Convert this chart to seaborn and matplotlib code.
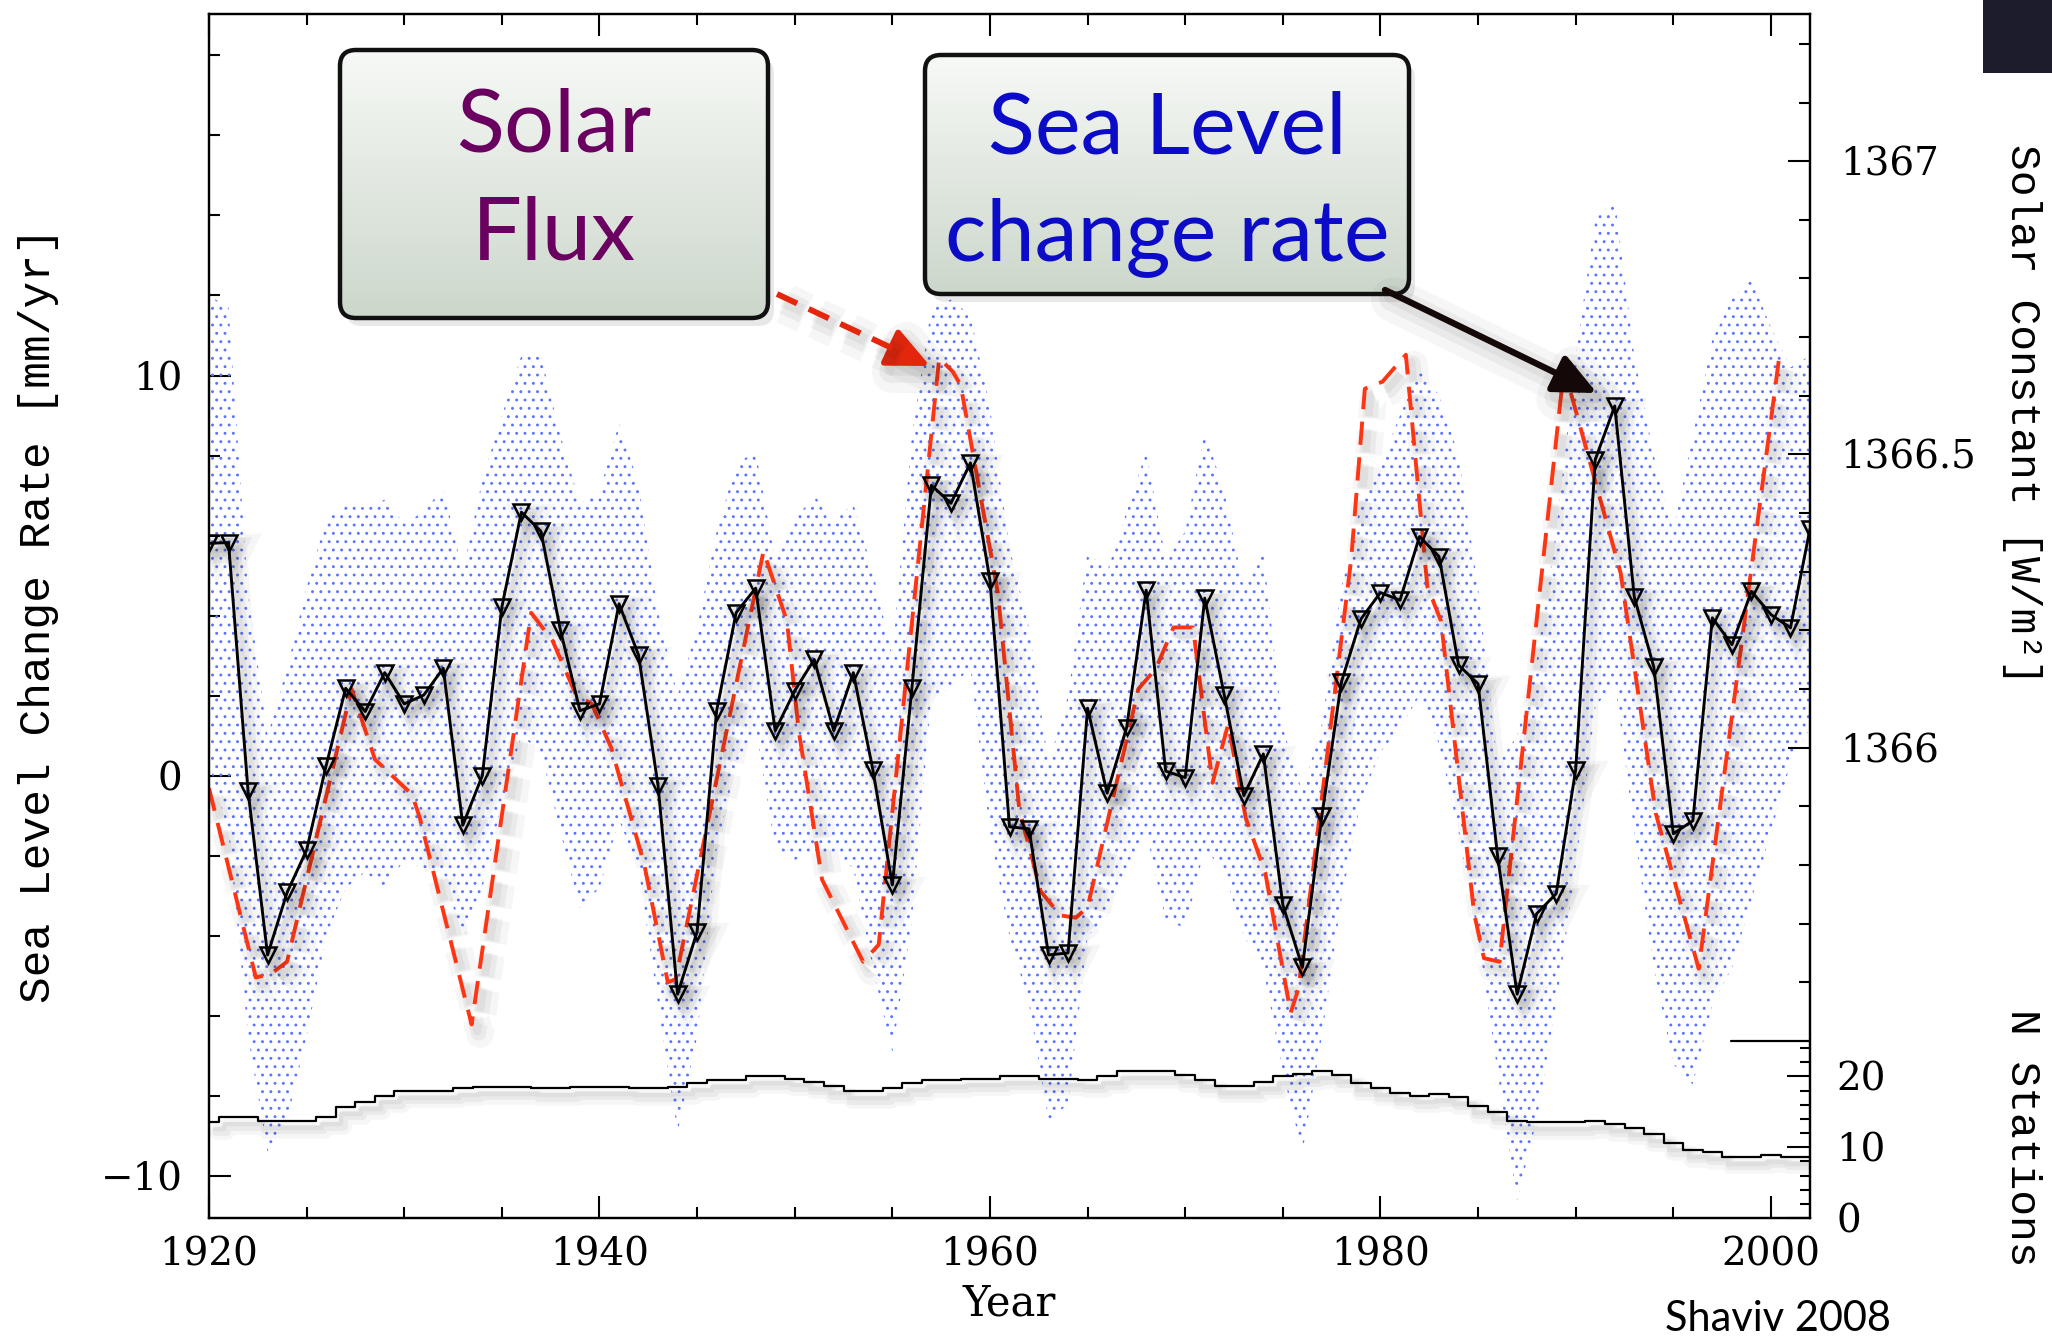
import numpy as np
import matplotlib
matplotlib.use("Agg")
import matplotlib.pyplot as plt
import seaborn as sns
from matplotlib.patches import FancyBboxPatch, FancyArrowPatch, Rectangle
from matplotlib.lines import Line2D
from matplotlib.ticker import FixedLocator, MultipleLocator, FuncFormatter
from matplotlib.colors import LinearSegmentedColormap
import matplotlib.patheffects as pe

# ---------------- data ----------------
years = list(range(1920, 2003))

sea_rate = [5.81, 5.83, -0.37, -4.47, -2.91, -1.85, 0.26, 2.19, 1.61, 2.58,
            1.80, 2.02, 2.69, -1.23, 0.01, 4.22, 6.59, 6.11, 3.64, 1.63,
            1.80, 4.30, 3.02, -0.24, -5.45, -3.89, 1.63, 4.08, 4.69, 1.13,
            2.13, 2.91, 1.13, 2.58, 0.16, -2.72, 2.19, 7.26, 6.81, 7.82,
            4.88, -1.27, -1.32, -4.47, -4.42, 1.69, -0.43, 1.21, 4.64, 0.12,
            -0.04, 4.44, 2.02, -0.49, 0.55, -3.22, -4.78, -0.99, 2.35, 3.92,
            4.58, 4.39, 5.98, 5.48, 2.77, 2.30, -2.00, -5.45, -3.44, -2.94,
            0.16, 7.90, 9.24, 4.47, 2.72, -1.44, -1.12, 3.95, 3.28, 4.61,
            4.03, 3.70, 6.17]

band_upper = [12.0, 11.7, 4.6, 1.0, 2.7, 4.7, 6.4, 6.8, 6.7, 6.9,
              6.3, 6.6, 7.2, 5.1, 7.4, 9.0, 10.5, 10.5, 8.5, 6.8,
              7.1, 8.8, 7.3, 4.1, 2.0, 3.7, 6.1, 7.8, 8.1, 5.4,
              6.4, 7.0, 6.4, 6.8, 5.1, 3.0, 8.5, 11.7, 11.9, 11.5,
              9.2, 5.7, 3.7, 0.3, 2.0, 5.6, 5.1, 6.6, 8.1, 5.4,
              6.1, 8.6, 7.1, 4.7, 5.6, 1.2, -0.4, 1.3, 4.7, 6.8,
              7.8, 9.0, 10.2, 9.5, 8.0, 4.7, 0.3, 1.0, 2.9, 6.1,
              10.5, 13.9, 14.4, 10.5, 8.0, 6.1, 8.5, 10.9, 11.9, 12.4,
              11.2, 10.2, 10.5]

band_lower = [0.3, -1.4, -6.5, -9.4, -8.6, -6.5, -4.0, -2.8, -2.4, -2.8,
              -2.1, -2.3, -2.4, -4.1, -2.8, -0.7, 1.0, 0.6, -1.4, -3.3,
              -2.8, -1.1, -2.3, -5.7, -8.9, -6.5, -1.8, 0.3, 1.2, -1.8,
              -2.1, -1.9, -1.9, -2.3, -4.8, -6.9, -3.6, 2.0, 2.2, 2.7,
              -1.4, -4.0, -5.7, -8.6, -8.2, -4.0, -3.5, -2.4, -1.4, -3.6,
              -3.8, -1.8, -2.4, -4.0, -4.8, -7.4, -9.4, -6.5, -3.1, -0.6,
              0.6, 1.2, 2.0, 0.8, -1.4, -4.0, -7.4, -10.6, -8.6, -5.7,
              -2.3, 1.7, 2.4, -1.4, -4.8, -7.2, -7.7, -5.7, -4.8, -3.1,
              -1.4, 0.3, 1.2]

n_stations = [13.5, 14.2, 14.2, 13.7, 13.7, 13.7, 14.2, 15.7, 16.4, 17.3,
              18.0, 18.0, 18.0, 18.3, 18.5, 18.5, 18.5, 18.3, 18.3, 18.5,
              18.5, 18.5, 18.3, 18.3, 18.5, 19.0, 19.5, 19.5, 20.0, 20.0,
              19.7, 19.25, 18.6, 17.9, 17.9, 18.3, 19.0, 19.5, 19.5, 19.7,
              19.7, 20.0, 20.0, 19.7, 19.7, 19.5, 20.0, 20.7, 20.7, 20.7,
              20.2, 19.5, 18.7, 18.7, 19.25, 20.0, 20.4, 20.7, 20.2, 19.0,
              18.3, 17.7, 17.3, 17.5, 17.1, 15.8, 15.0, 13.7, 13.5, 13.5,
              13.5, 13.7, 13.3, 12.75, 11.8, 10.55, 9.6, 9.3, 8.66, 8.66,
              8.9, 8.66, 8.66]

solar_years = [1920.0, 1922.4, 1923.2, 1924.0, 1927.3, 1928.5, 1930.4, 1930.8,
               1933.45, 1936.5, 1937.6, 1938.8, 1939.6, 1940.6, 1942.3, 1943.5,
               1943.9, 1948.4, 1949.6, 1950.2, 1951.4, 1953.5, 1954.3, 1957.4,
               1958.1, 1958.5, 1960.4, 1961.5, 1962.6, 1963.6, 1964.4, 1965.0,
               1967.6, 1968.5, 1969.4, 1970.4, 1971.4, 1972.2, 1973.1, 1974.1,
               1975.4, 1975.8, 1978.5, 1979.2, 1980.1, 1981.3, 1982.4, 1983.1,
               1984.8, 1985.3, 1986.1, 1989.4, 1992.3, 1994.1, 1996.3, 2000.4]
solar_flux = [1365.931, 1365.608, 1365.615, 1365.635, 1366.100, 1365.980, 1365.920, 1365.880,
              1365.528, 1366.230, 1366.182, 1366.090, 1366.075, 1366.000, 1365.800, 1365.600,
              1365.605, 1366.335, 1366.216, 1366.030, 1365.775, 1365.635, 1365.664, 1366.664,
              1366.641, 1366.618, 1366.265, 1365.895, 1365.755, 1365.714, 1365.710, 1365.728,
              1366.100, 1366.135, 1366.205, 1366.205, 1365.940, 1366.040, 1365.880, 1365.787,
              1365.548, 1365.589, 1366.321, 1366.612, 1366.624, 1366.670, 1366.275, 1366.216,
              1365.717, 1365.641, 1365.635, 1366.647, 1366.298, 1365.888, 1365.623, 1366.660]

x_major_ticks = [1920, 1940, 1960, 1980, 2000]
y_major_ticks = [-10, 0, 10]
solar_major_ticks = [1366.0, 1366.5, 1367.0]
station_major_ticks = [0, 10, 20]

box_solar_lines = ["Solar", "Flux"]
box_sea_lines = ["Sea Level", "change rate"]

# ---------------- styling ----------------
sns.set_theme(style="ticks", rc={
    "axes.edgecolor": "black", "text.color": "black", "axes.labelcolor": "black",
    "xtick.color": "black", "ytick.color": "black", "axes.linewidth": 1.6,
    "hatch.linewidth": 0.9, "hatch.color": "#5a74ff",
    "axes.facecolor": "white", "figure.facecolor": "white"})
plt.rcParams["font.family"] = ["DejaVu Serif"]

W, H, DPI = 2052, 1342, 100
fig = plt.figure(figsize=(W / DPI, H / DPI), dpi=DPI)


def fx(x):
    return x / W


def fy(y):
    return 1 - y / H


L, R, T, B = 209, 1810, 14, 1218
ax = fig.add_axes([fx(L), fy(B), (R - L) / W, (B - T) / H])
ax2 = ax.twinx()
ax3 = fig.add_axes([fx(L), fy(B), (R - L) / W, (B - 1041) / H], sharex=ax)
ax3.patch.set_visible(False)


def soft_shadow(lw):
    return [pe.SimpleLineShadow(offset=(6, -7), shadow_color="k", alpha=0.035, linewidth=lw * 7),
            pe.SimpleLineShadow(offset=(5, -6), shadow_color="k", alpha=0.05, linewidth=lw * 4),
            pe.SimpleLineShadow(offset=(4, -5), shadow_color="k", alpha=0.05, linewidth=lw * 2),
            pe.Normal()]


# error band
ax.fill_between(years, band_lower, band_upper, facecolor="none", edgecolor="#5a74ff",
                hatch="..", linewidth=0, zorder=1)

# solar flux (right axis units, drawn through ax2's scale)
sns.lineplot(x=solar_years, y=solar_flux, ax=ax, transform=ax2.transData,
             color="#ff3412", lw=2.8, linestyle=(0, (6.0, 3.2)), zorder=2,
             path_effects=soft_shadow(2.8))

# sea level change rate
sns.lineplot(x=years, y=sea_rate, ax=ax, color="black", lw=2.1, marker="v",
             markersize=11.5, markerfacecolor="none", markeredgecolor="black",
             markeredgewidth=1.8, zorder=3, path_effects=soft_shadow(2.1))

# number of stations
sns.lineplot(x=years, y=n_stations, ax=ax3, color="black", lw=1.6,
             drawstyle="steps-mid", path_effects=soft_shadow(1.6))

ax.set_xlim(1920, 2002)
ax.set_ylim(-11.04, 19.03)
ax2.set_ylim(1365.198, 1367.251)
ax3.set_ylim(0, 25)

# ---------------- ticks ----------------
minus = lambda v, p: ("%g" % v).replace("-", "\u2212")
ax.xaxis.set_major_locator(FixedLocator(x_major_ticks))
ax.xaxis.set_minor_locator(MultipleLocator(5))
ax.yaxis.set_major_locator(FixedLocator(y_major_ticks))
ax.yaxis.set_minor_locator(MultipleLocator(2))
ax.yaxis.set_major_formatter(FuncFormatter(minus))
ax.xaxis.set_major_formatter(FuncFormatter(lambda v, p: "%d" % v))
ax.tick_params(which="both", direction="in", top=True, bottom=True, left=True,
               right=False, width=1.5, labelsize=28, colors="black")
ax.tick_params(which="major", length=16)
ax.tick_params(which="minor", length=8)
ax.tick_params(axis="x", pad=13)
ax.tick_params(axis="y", pad=19)

ax2.yaxis.set_major_locator(FixedLocator(solar_major_ticks))
ax2.yaxis.set_minor_locator(FixedLocator(np.round(np.arange(1365.6, 1367.25, 0.1), 1)))
ax2.yaxis.set_major_formatter(FuncFormatter(lambda v, p: "%g" % v))
ax2.tick_params(which="both", direction="in", right=True, left=False, width=1.5,
                labelsize=28, pad=22)
ax2.tick_params(which="major", length=16)
ax2.tick_params(which="minor", length=8)
ax2.axhline(1365.5, xmin=0.9507, xmax=1.0, color="black", lw=1.6, clip_on=False)

for s in ax3.spines.values():
    s.set_visible(False)
ax3.yaxis.tick_right()
ax3.yaxis.set_major_locator(FixedLocator(station_major_ticks))
ax3.yaxis.set_minor_locator(MultipleLocator(2))
ax3.tick_params(axis="y", which="both", direction="in", right=True, left=False,
                labelright=True, labelleft=False, width=1.5, labelsize=28, pad=19)
ax3.tick_params(axis="y", which="major", length=16.5)
ax3.tick_params(axis="y", which="minor", length=7)
ax3.tick_params(axis="x", which="both", bottom=False, top=False,
                labelbottom=False, labeltop=False)
ax3.set_xlabel("")
ax3.set_ylabel("")

# ---------------- labels ----------------
ax.set_xlabel("Year", fontsize=30, family="DejaVu Serif")
ax.xaxis.set_label_coords(0.4997, -0.0706)
ax.xaxis.label.set_va("center")
ax.set_ylabel("Sea Level Change Rate [mm/yr]", fontsize=32, family="Liberation Mono")
ax.yaxis.set_label_coords((39 - L) / (R - L), (B - 615) / (B - T))
ax.yaxis.label.set_va("center")
ax2.set_ylabel("")
fig.text(fx(2022), fy(414), "Solar Constant [W/m\u00b2]", rotation=-90, ha="center",
         va="center", fontsize=31, family="Liberation Mono")
fig.text(fx(2022), fy(1138), "N Stations", rotation=-90, ha="center", va="center",
         fontsize=31, family="Liberation Mono")

renderer = fig.canvas.get_renderer()


def fit(t, target_w):
    w = t.get_window_extent(renderer).width
    t.set_fontsize(t.get_fontsize() * target_w / w)


# ---------------- annotation boxes ----------------
grad_cmap = LinearSegmentedColormap.from_list("g", ["#f7f9f6", "#ccd7cb"])


def draw_box(x0, y0, x1, y1, lines, baselines, color, widest, target_w):
    m = 14
    bax = fig.add_axes([fx(x0 - m), fy(y1 + m), (x1 - x0 + 2 * m) / W, (y1 - y0 + 2 * m) / H])
    bax.set_xlim(x0 - m, x1 + m)
    bax.set_ylim(y1 + m, y0 - m)
    bax.axis("off")
    sh = FancyBboxPatch((x0 + 6, y0 + 8), x1 - x0, y1 - y0,
                        boxstyle="round,pad=0,rounding_size=16", facecolor="0.5",
                        edgecolor="none", alpha=0.18, clip_on=False)
    bax.add_patch(sh)
    patch = FancyBboxPatch((x0, y0), x1 - x0, y1 - y0,
                           boxstyle="round,pad=0,rounding_size=16", facecolor="none",
                           edgecolor="#111111", lw=3.2, clip_on=False, zorder=3)
    bax.add_patch(patch)
    grad = np.linspace(0, 1, 256).reshape(-1, 1)
    im = bax.imshow(grad, extent=[x0, x1, y1, y0], aspect="auto", cmap=grad_cmap,
                    origin="upper", zorder=2)
    im.set_clip_path(patch)
    texts = []
    for s, b in zip(lines, baselines):
        texts.append(bax.text((x0 + x1) / 2, b, s, ha="center", va="baseline",
                              family="Lato", fontsize=60, color=color, zorder=4))
    w = texts[widest].get_window_extent(renderer).width
    for t in texts:
        t.set_fontsize(60 * target_w / w)


draw_box(340, 50, 768, 318, box_solar_lines, [152, 260], "#6a0060", 0, 195)
draw_box(925, 55, 1409, 294, box_sea_lines, [153, 260], "#0c0cc8", 1, 445)


# ---------------- arrows ----------------
def arrow(a, b, color, lw, dashed):
    a = np.array(a, float)
    b = np.array(b, float)
    d = (b - a) / np.linalg.norm(b - a)
    head = 36
    base = b - d * head
    if dashed:
        fig.lines.append(Line2D([fx(a[0]), fx(base[0] + d[0] * 4)], [fy(a[1]), fy(base[1] + d[1] * 4)],
                                transform=fig.transFigure, color=color, lw=lw,
                                linestyle=(0, (3.8, 2.2)), solid_capstyle="butt",
                                path_effects=soft_shadow(lw)))
        start = base - d * 2
    else:
        start = a
    fa = FancyArrowPatch((fx(start[0]), fy(start[1])), (fx(b[0]), fy(b[1])),
                         transform=fig.transFigure,
                         arrowstyle="-|>,head_length=26,head_width=12",
                         mutation_scale=1, color=color, lw=lw, shrinkA=0, shrinkB=0,
                         path_effects=soft_shadow(lw))
    fig.patches.append(fa)


arrow((777, 294), (930, 366), "#e3260c", 4.2, True)
arrow((1385, 290), (1597, 393), "#150808", 4.6, False)

# credit and corner block
t = fig.text(fx(1778), fy(1331), "Shaviv 2008", ha="center", va="baseline",
             family="Lato", fontsize=30, color="black")
fit(t, 226)
fig.patches.append(Rectangle((fx(1983), fy(73)), (W - 1983) / W, 73 / H,
                             transform=fig.transFigure, facecolor="#1c1c2c",
                             edgecolor="none"))

fig.savefig("out.png", dpi=DPI, facecolor="white")
